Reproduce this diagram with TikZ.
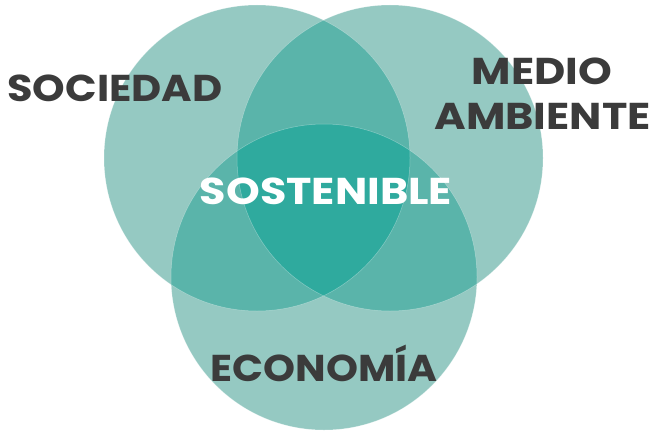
\documentclass[tikz,border=0pt]{standalone}
\usepackage{fontspec}
\setmainfont{Poppins}[BoldFont={* Bold}]
\definecolor{one}{RGB}{149,201,194}
\definecolor{two}{RGB}{90,180,170}
\definecolor{three}{RGB}{47,170,158}
\definecolor{txt}{RGB}{59,59,59}
\tikzset{
  lbl/.style={anchor=base,inner sep=0pt,text=txt,font=\fontsize{37.5}{40}\selectfont\bfseries},
  wlbl/.style={lbl,text=white},
  rim/.style={draw=white,draw opacity=0.35,line width=0.5bp}
}
\begin{document}
\begin{tikzpicture}[x=1bp,y=1bp]
\useasboundingbox (0,0) rectangle (651,431);
\def\ca{(257,273) circle[radius=153]}
\def\cb{(390,273) circle[radius=153]}
\def\cc{(324,154) circle[radius=153]}
\fill[one] \ca; \fill[one] \cb; \fill[one] \cc;
\begin{scope}\clip \ca; \fill[two] \cb; \fill[two] \cc;\end{scope}
\begin{scope}\clip \cb; \fill[two] \cc;\end{scope}
\begin{scope}\clip \ca; \clip \cb; \fill[three] \cc;\end{scope}
\draw[rim] \ca; \draw[rim] \cb; \draw[rim] \cc;
\node[lbl,xscale=1.11] (soc) at (115,330) {SOCIEDAD};
\node[lbl,xscale=1.15] (med) at (542,347) {MEDIO};
\node[lbl,xscale=1.15] (amb) at (542.5,302) {AMBIENTE};
\node[lbl,xscale=1.09] (eco) at (324,50) {ECONOMÍA};
\node[wlbl,xscale=1.15] (sos) at (326,227) {SOSTENIBLE};
\end{tikzpicture}
\end{document}
